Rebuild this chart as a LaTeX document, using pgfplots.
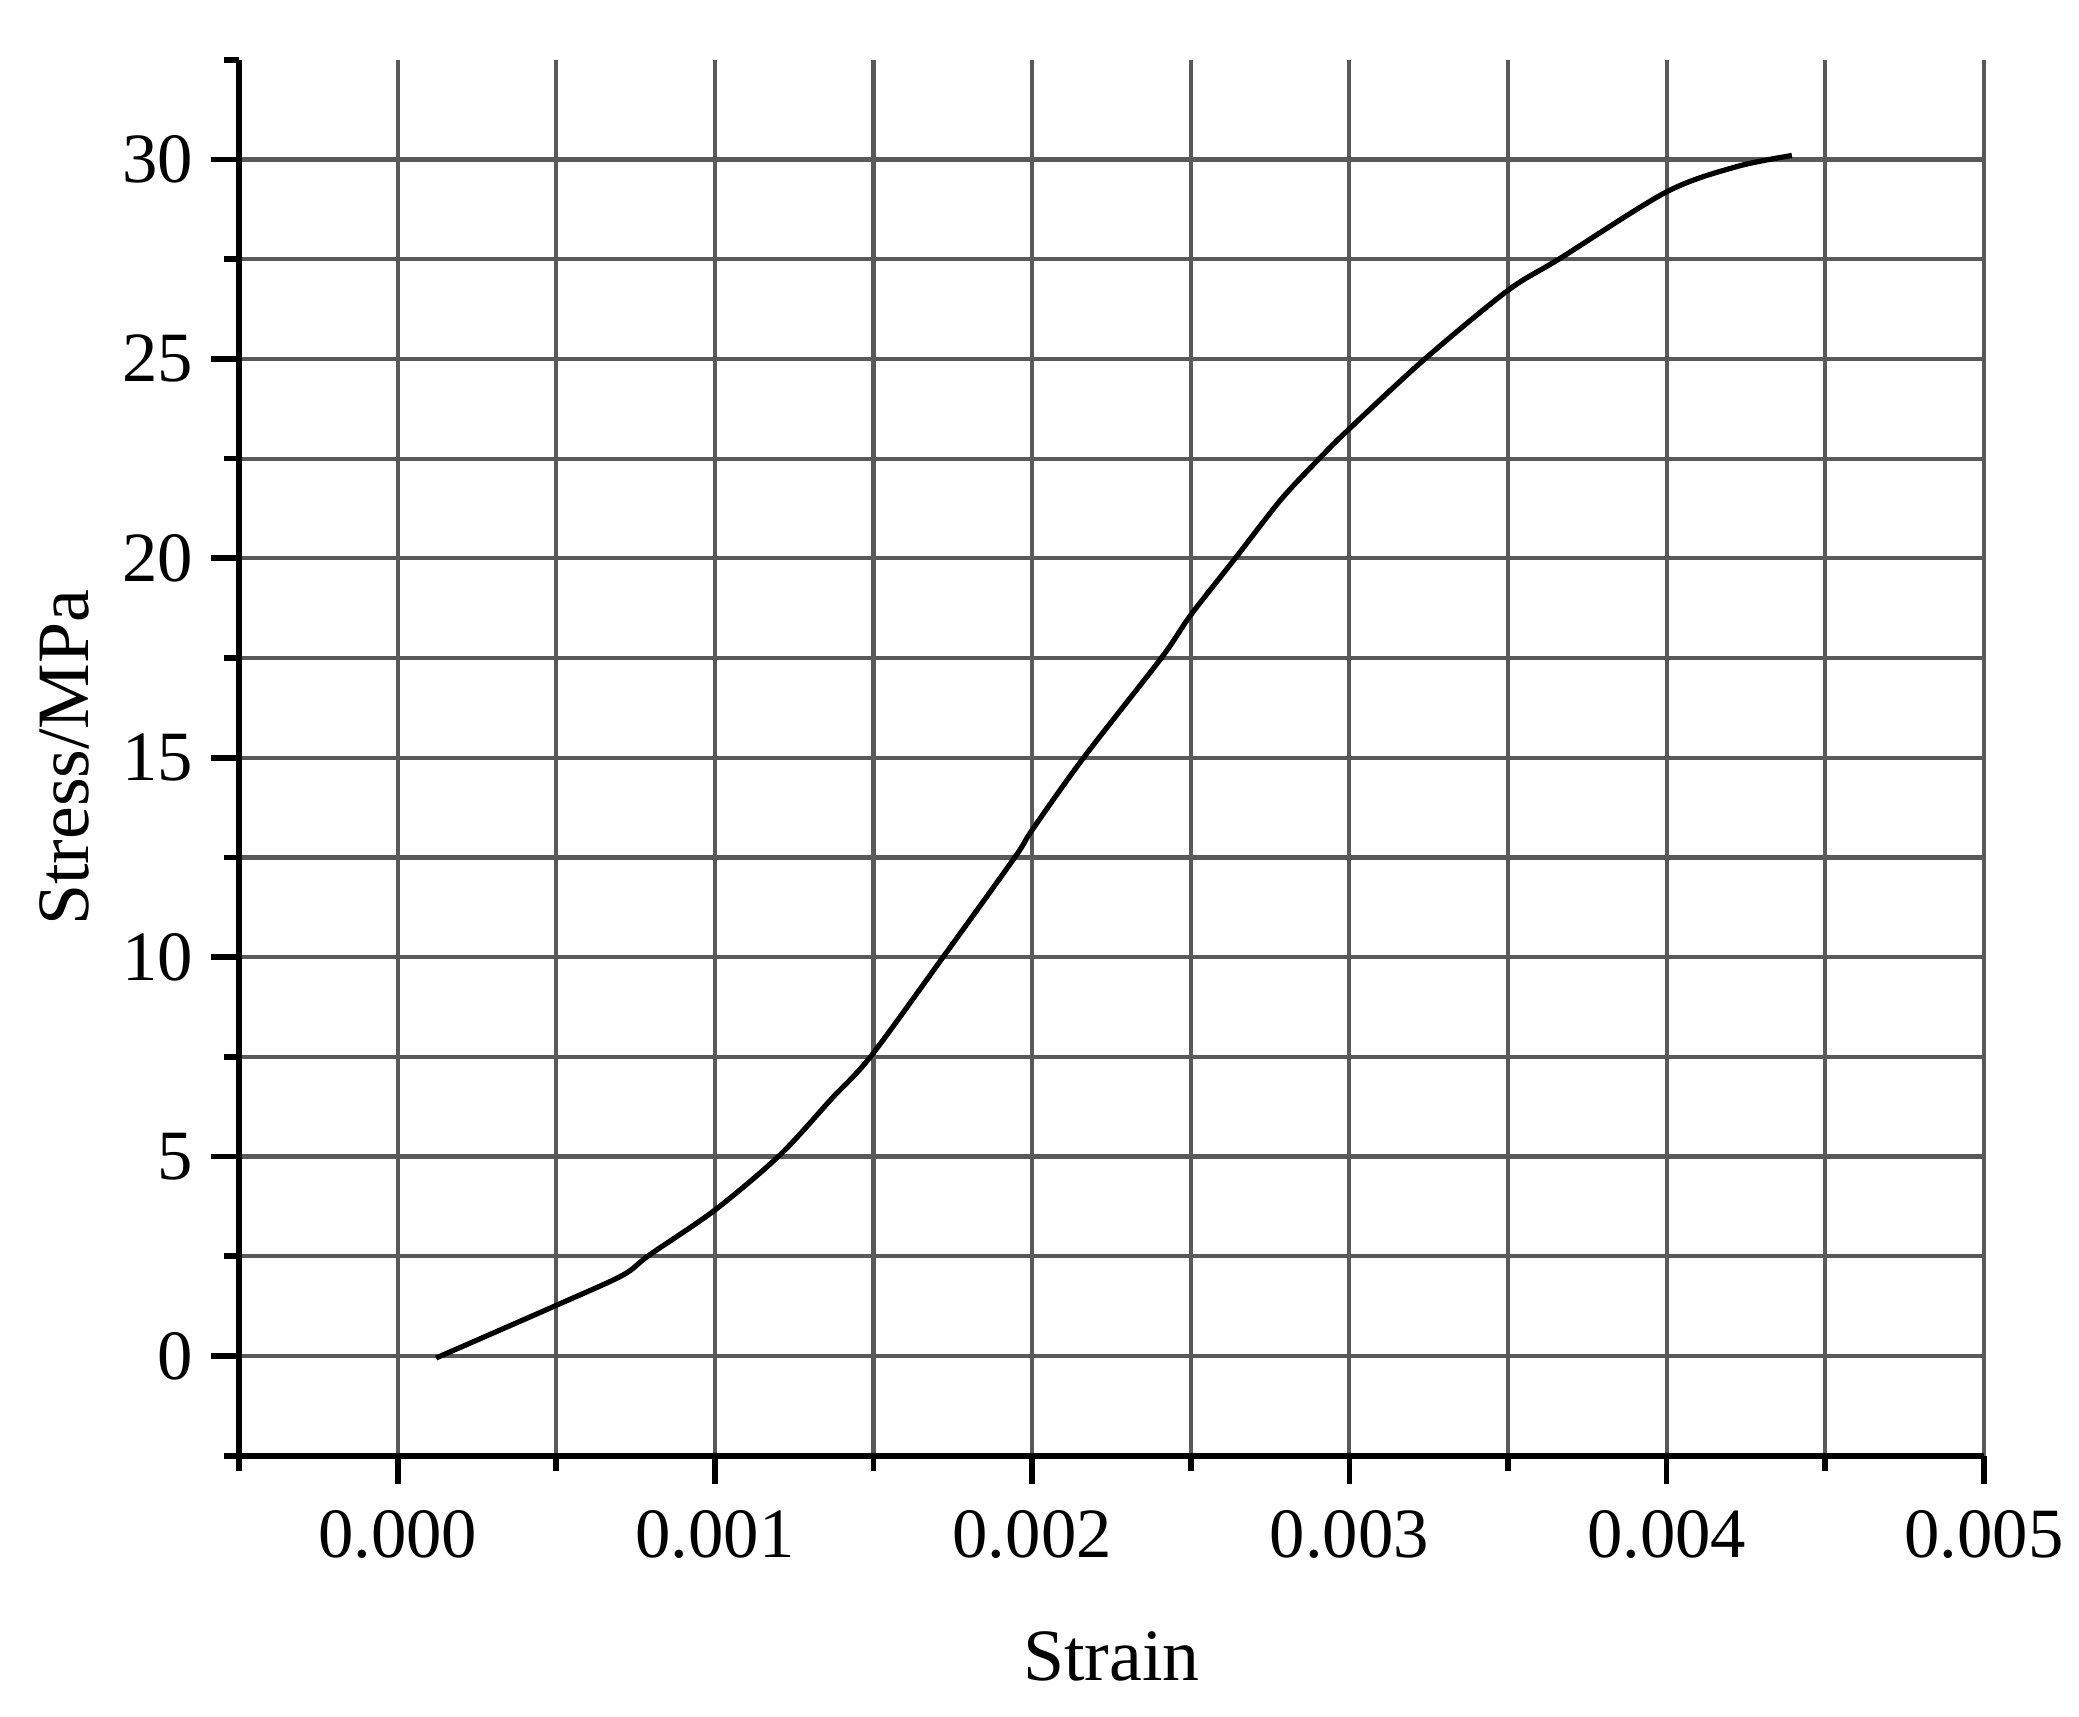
\documentclass[border=0pt]{standalone}
\usepackage{pgfplots}
\pgfplotsset{compat=1.18}
\usepackage{fontspec}
\setmainfont{Liberation Serif}

\definecolor{gridgray}{HTML}{595959}

% stress-strain curve
\pgfplotstableread{
strain    stress
0.000121  -0.05
0.000500  1.27
0.000708  2.02
0.000793  2.53
0.001000  3.66
0.001205  5.04
0.001370  6.47
0.001490  7.50
0.001719  10.00
0.001945  12.50
0.002000  13.19
0.002162  15.00
0.002407  17.50
0.002500  18.58
0.002640  20.00
0.002785  21.48
0.002905  22.50
0.003000  23.25
0.003238  25.00
0.003500  26.72
0.003660  27.50
0.004000  29.19
0.004220  29.82
0.004395  30.10
}\curve

\begin{document}
\begin{tikzpicture}
\path[use as bounding box] (-46pt,-50.2pt) rectangle (353.9pt,280pt);
\begin{axis}[
    scale only axis, width=335.6pt, height=268.5pt,
    xmin=-0.0005, xmax=0.005, ymin=-2.5, ymax=32.5,
    axis lines*=left, axis line style={-, line width=1.1pt},
    xtick={0,0.001,0.002,0.003,0.004,0.005},
    minor xtick={-0.0005,0.0005,0.0015,0.0025,0.0035,0.0045},
    ytick={0,5,10,15,20,25,30},
    minor ytick={-2.5,2.5,7.5,12.5,17.5,22.5,27.5},
    extra y ticks={32.5}, extra y tick labels={},
    extra y tick style={grid=none, major tick length=2.9pt},
    grid=both,
    major grid style={gridgray, line width=0.8pt},
    minor grid style={gridgray, line width=0.8pt},
    tick align=outside,
    major tick length=5.5pt, minor tick length=2.9pt,
    tick style={black, line width=1.1pt},
    scaled x ticks=false,
    /pgf/number format/assume math mode=true,
    x tick label style={/pgf/number format/fixed, /pgf/number format/fixed zerofill, /pgf/number format/precision=3},
    ticklabel style={font=\fontsize{13.6}{16}\selectfont},
    xticklabel style={anchor=center, yshift=-9.6pt},
    yticklabel style={anchor=east, xshift=0.2pt},
    label style={font=\fontsize{14.2}{17}\selectfont},
    xlabel={Strain}, ylabel={Stress/MPa},
    xlabel style={at={(axis description cs:0.5,-0.144)}, anchor=center},
    ylabel style={at={(axis description cs:-0.1,0.5)}, anchor=center},
]
\addplot[black, line width=1pt, smooth, tension=0.5] table[x=strain, y=stress] {\curve};
\end{axis}
\end{tikzpicture}
\end{document}
